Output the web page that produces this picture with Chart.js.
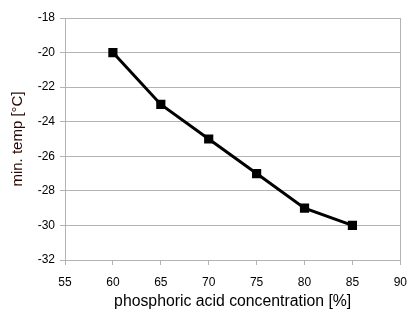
<!DOCTYPE html>
<html>
<head>
<meta charset="utf-8">
<script src="https://cdn.jsdelivr.net/npm/chart.js@4"></script>
<style>
  html, body { margin: 0; padding: 0; background: #fff; }
  canvas { display: block; }
</style>
</head>
<body>
<canvas id="graf" width="417" height="324"></canvas>
<script>
// phosphoric acid concentration [%] vs. minimum temperature [°C]
const concentration = [60, 65, 70, 75, 80, 85]
const minTemp = [-20, -23, -25, -27, -29, -30]

const xTicks = { min: 55, max: 90, step: 5 }
const yTicks = { min: -32, max: -18, step: 2 }

const gridGray = '#b3b3b3'

Chart.defaults.font.family = '"Liberation Sans", Arial, sans-serif'
Chart.defaults.color = '#000'

// right-hand frame line of the plot area
const rightEdge = {
    id: 'rightEdge',
    afterDraw(chart) {
        const a = chart.chartArea
        const c = chart.ctx
        c.save()
        c.strokeStyle = gridGray
        c.lineWidth = 1
        c.beginPath()
        c.moveTo(Math.round(a.right) + 0.5, a.top)
        c.lineTo(Math.round(a.right) + 0.5, a.bottom)
        c.stroke()
        c.restore()
    }
}

const ctx = document.getElementById('graf').getContext('2d')

new Chart(ctx, {
    type: 'line',
    data: {
        datasets: [{
            data: concentration.map((x, i) => ({ x: x, y: minTemp[i] })),
            borderColor: '#000',
            backgroundColor: '#000',
            borderWidth: 3,
            pointStyle: 'rect',
            pointRadius: 6.5,
            pointBorderWidth: 0,
            tension: 0,
            fill: false
        }]
    },
    options: {
        responsive: false,
        animation: false,
        layout: { padding: { top: 18, right: 14, left: 0, bottom: 0 } },
        plugins: {
            legend: { display: false },
            tooltip: { enabled: false }
        },
        scales: {
            x: {
                type: 'linear',
                min: xTicks.min,
                max: xTicks.max,
                afterFit: s => { s.height = 64 },
                ticks: { stepSize: xTicks.step, padding: 10, font: { size: 12 } },
                grid: { drawOnChartArea: false, color: gridGray, tickLength: 5 },
                border: { color: gridGray },
                title: {
                    display: true,
                    text: 'phosphoric acid concentration [%]',
                    font: { size: 15.8 },
                    padding: { top: 4, bottom: 13 }
                }
            },
            y: {
                min: yTicks.min,
                max: yTicks.max,
                afterFit: s => { s.width = 65 },
                ticks: { stepSize: yTicks.step, padding: 5, font: { size: 12 } },
                grid: { color: gridGray, tickLength: 5 },
                border: { color: gridGray },
                title: {
                    display: true,
                    text: 'min. temp [°C]',
                    color: '#2a0800',
                    font: { size: 15 },
                    padding: { top: 9, bottom: 0 }
                }
            }
        }
    },
    plugins: [rightEdge]
})
</script>
</body>
</html>
